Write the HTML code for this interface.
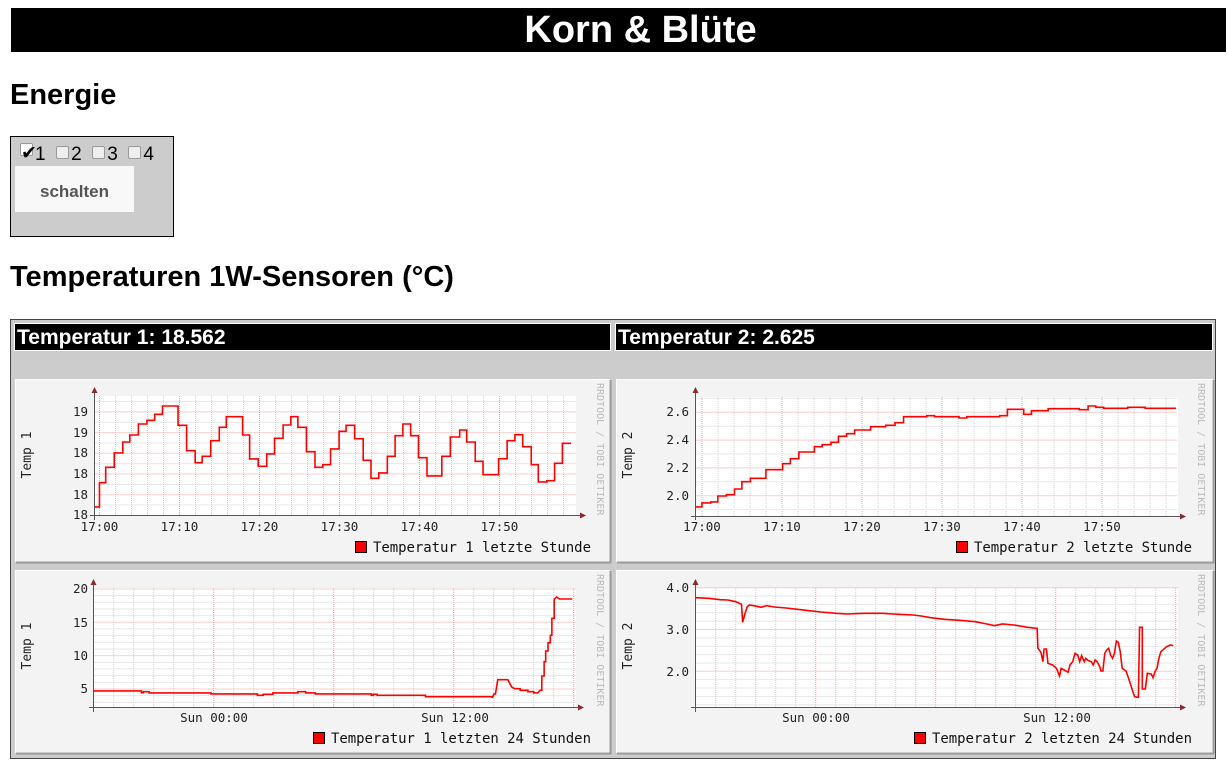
<!DOCTYPE html>
<html><head><meta charset="utf-8"><style>
body{margin:0;width:1228px;height:772px;background:#fff;position:relative;overflow:hidden;font-family:"Liberation Sans",sans-serif}
.a{position:absolute}
.title{left:11px;top:8px;width:1171px;padding-left:44px;height:44px;background:#000;color:#fff;font-weight:bold;font-size:38px;text-align:center;line-height:45px}
h2{margin:0;position:absolute;font-weight:bold}
.box{left:10px;top:136px;width:162px;height:99px;background:#ccc;border:1px solid #000}
.btn{left:4px;top:29px;width:119px;height:46px;background:#f8f8f8;color:#555;font-weight:bold;font-size:17px;text-align:center;line-height:52px}
.cb{display:inline-block;width:11px;height:11px;background:#eee;border:1px solid #999;border-radius:2px;vertical-align:1px;margin-right:2px}
.cont{left:10px;top:319px;width:1204px;height:438px;background:#ccc;border:1px solid #444}
.hd{background:#000;color:#fff;font-weight:bold;font-size:21px;line-height:28px;border:1px solid #fff;height:26px;padding-left:2px}
</style></head><body>
<div class="a title">Korn &amp; Blüte</div>
<h2 style="left:10px;top:79px;font-size:29px">Energie</h2>
<div class="a box">
 <div class="a" style="left:9px;top:6px;font-size:19px;line-height:20px;white-space:nowrap"><span class="cb" style="background:#fff">&#10004;</span>1&nbsp; <span class="cb"></span>2&nbsp; <span class="cb"></span>3&nbsp; <span class="cb"></span>4</div>
 <div class="a btn">schalten</div>
</div>
<h2 style="left:10px;top:261px;font-size:29px">Temperaturen 1W-Sensoren (°C)</h2>
<div class="a cont"></div>
<div class="a hd" style="left:14px;top:323px;width:593px">Temperatur 1: 18.562</div>
<div class="a hd" style="left:615px;top:323px;width:594px">Temperatur 2: 2.625</div>
<svg class="a" style="left:0;top:0" width="1228" height="772" font-family="'DejaVu Sans Mono','Liberation Mono',monospace">
<g stroke-width="1">
<rect x="15.5" y="379.5" width="594" height="182" fill="#f3f3f3" stroke="#fff"/>
<rect x="616.5" y="379.5" width="596" height="182" fill="#f3f3f3" stroke="#fff"/>
<rect x="15.5" y="570.5" width="594" height="182" fill="#f3f3f3" stroke="#fff"/>
<rect x="616.5" y="570.5" width="596" height="182" fill="#f3f3f3" stroke="#fff"/>
<path d="M16,562.5H610.5V380M617,562.5H1213.5V380M16,753.5H610.5V571M617,753.5H1213.5V571" stroke="#999" fill="none" stroke-width="2"/>
<rect x="94" y="396" width="482" height="120" fill="#fff"/>
<rect x="695" y="397" width="483" height="120" fill="#fff"/>
<rect x="93" y="588" width="483" height="120" fill="#fff"/>
<rect x="695" y="588" width="483" height="120" fill="#fff"/>
</g>
<g id="grids"></g>
<g stroke="#555" fill="none">
<path d="M94.5,520V392M90,515.5H580"/>
<path d="M695.5,520V392M691,516.5H1180"/>
<path d="M93.5,712V584M89,707.5H578"/>
<path d="M695.5,712V584M691,707.5H1180"/>
</g>
<g fill="#8b2a2a">
<path d="M91.5,393L94.5,387L97.5,393Z M580,512.5L586,515.5L580,518.5Z"/>
<path d="M692.5,393L695.5,387L698.5,393Z M1180,513.5L1186,516.5L1180,519.5Z"/>
<path d="M90.5,585L93.5,579L96.5,585Z M578,704.5L584,707.5L578,710.5Z"/>
<path d="M692.5,585L695.5,579L698.5,585Z M1180,704.5L1186,707.5L1180,710.5Z"/>
</g>
<g fill="none" stroke="#f00" stroke-width="1.6">
<path vector-effect="non-scaling-stroke" transform="translate(10,318) scale(0.389,0.3333)" d="M218,567 H230 V494 H246 V448 H268 V405 H290 V372 H308 V351 H330 V318 H352 V307 H372 V289 H392 V264 H432 V322 H454 V398 H476 V434 H494 V415 H516 V368 H538 V328 H556 V296 H598 V351 H616 V423 H638 V445 H660 V408 H680 V361 H702 V321 H722 V296 H740 V328 H762 V401 H784 V448 H804 V440 H824 V393 H846 V340 H864 V322 H886 V362 H908 V427 H928 V481 H948 V465 H970 V415 H990 V353 H1010 V318 H1030 V353 H1050 V419 H1072 V474 H1110 V415 H1132 V357 H1156 V336 H1174 V372 H1196 V430 H1216 V470 H1256 V422 H1278 V368 H1298 V350 H1318 V386 H1340 V440 H1358 V492 H1380 V488 H1400 V436 H1420 V376 H1442"/>
<path vector-effect="non-scaling-stroke" transform="translate(612,375) scale(0.3877,0.3333)" d="M215,396 H232 V384 H255 V381 H273 V363 H295 V359 H316 V342 H335 V320 H357 V310 H397 V284 H440 V266 H460 V251 H482 V231 H522 V215 H542 V209 H565 V202 H584 V184 H605 V176 H626 V165 H667 V155 H706 V151 H730 V143 H752 V125 H812 V122 H832 V125 H895 V129 H915 V125 H1000 V122 H1020 V103 H1062 V118 H1082 V107 H1125 V101 H1205 V104 H1228 V93 H1248 V97 H1268 V100 H1330 V97 H1375 V100 H1455"/>
<path vector-effect="non-scaling-stroke" transform="translate(10,565) scale(0.3865,0.3333)" d="M215,378 H340 V383 H345 V380 H360 V384 H520 V387 H640 V391 H655 V388 H680 V384 H745 V380 H765 V384 H790 V387 H935 V391 H940 V388 H950 V391 H1075 V395 H1248 V399 L1252,387 H1256 L1262,344 H1288 L1298,366 L1306,371 H1320 V376 H1340 V380 H1355 V384 H1365 L1372,376 H1376 V333 H1382 V290 H1386 V258 H1392 V233 H1398 V211 H1402 V160 H1408 V103 L1414,96 L1422,102 H1455"/>
<path vector-effect="non-scaling-stroke" transform="translate(612,565) scale(0.3865,0.3333)" d="M215,98 L250,100 L280,104 L300,105 L320,110 L335,118 L338,172 L343,150 L350,125 L356,120 L375,124 L385,127 L400,122 L420,126 L450,129 L480,133 L510,137 L540,141 L580,145 L610,147 L650,145 L700,145 L740,148 L780,150 L800,153 L825,158 L860,163 L900,166 L940,170 L970,177 L990,182 L1010,177 L1040,180 L1060,184 L1075,187 L1100,190 L1102,250 L1110,262 L1115,290 L1118,252 L1124,252 L1128,295 L1140,300 L1150,310 L1158,333 L1162,310 L1170,315 L1180,322 L1185,300 L1192,290 L1198,265 L1205,270 L1210,290 L1215,272 L1222,290 L1226,280 L1232,287 L1240,290 L1245,300 L1250,285 L1255,290 L1262,305 L1265,318 L1270,318 L1275,265 L1280,255 L1285,250 L1290,270 L1295,280 L1300,265 L1305,228 L1310,232 L1315,260 L1320,310 L1330,318 L1338,345 L1345,370 L1352,395 L1362,397 L1365,187 L1372,187 L1372,372 L1380,372 L1385,325 L1395,327 L1400,338 L1405,320 L1410,310 L1415,280 L1420,260 L1435,245 L1445,240 L1452,242"/>
</g>
<g font-size="12.5" fill="#222" text-anchor="end">
<text x="88" y="416">19</text><text x="88" y="437">19</text><text x="88" y="457">18</text><text x="88" y="478">18</text><text x="88" y="499">18</text><text x="88" y="519">18</text>
<text x="689" y="416">2.6</text><text x="689" y="444">2.4</text><text x="689" y="472">2.2</text><text x="689" y="500">2.0</text>
<text x="88" y="593">20</text><text x="88" y="627">15</text><text x="88" y="660">10</text><text x="88" y="693">5</text>
<text x="689" y="592">4.0</text><text x="689" y="634">3.0</text><text x="689" y="676">2.0</text>
</g>
<g font-size="12.5" fill="#222" text-anchor="middle">
<text x="99.5" y="531">17:00</text><text x="179.5" y="531">17:10</text><text x="259.5" y="531">17:20</text><text x="339.5" y="531">17:30</text><text x="419.5" y="531">17:40</text><text x="499.5" y="531">17:50</text>
<text x="702" y="531">17:00</text><text x="782" y="531">17:10</text><text x="862" y="531">17:20</text><text x="942" y="531">17:30</text><text x="1022" y="531">17:40</text><text x="1102" y="531">17:50</text>
<text x="214" y="722">Sun 00:00</text><text x="455" y="722">Sun 12:00</text>
<text x="816" y="722">Sun 00:00</text><text x="1057" y="722">Sun 12:00</text>
</g>
<g font-size="13" fill="#222" text-anchor="middle">
<text transform="translate(31,455) rotate(-90)">Temp 1</text>
<text transform="translate(632,455) rotate(-90)">Temp 2</text>
<text transform="translate(31,646) rotate(-90)">Temp 1</text>
<text transform="translate(632,646) rotate(-90)">Temp 2</text>
</g>
<g font-size="10" fill="#bbb">
<text transform="translate(597,383) rotate(90)">RRDTOOL / TOBI OETIKER</text>
<text transform="translate(1198,383) rotate(90)">RRDTOOL / TOBI OETIKER</text>
<text transform="translate(597,574) rotate(90)">RRDTOOL / TOBI OETIKER</text>
<text transform="translate(1198,574) rotate(90)">RRDTOOL / TOBI OETIKER</text>
</g>
<g fill="#f00" stroke="#000">
<rect x="355.5" y="541.5" width="11" height="11"/><rect x="956.5" y="541.5" width="11" height="11"/>
<rect x="313.5" y="732.5" width="11" height="11"/><rect x="914.5" y="732.5" width="11" height="11"/>
</g>
<g font-size="14" fill="#111">
<text x="373" y="552" textLength="218">Temperatur 1 letzte Stunde</text>
<text x="974" y="552" textLength="218">Temperatur 2 letzte Stunde</text>
<text x="331" y="743" textLength="260">Temperatur 1 letzten 24 Stunden</text>
<text x="932" y="743" textLength="260">Temperatur 2 letzten 24 Stunden</text>
</g>
</svg>
<script>
(function(){
var g=document.getElementById('grids'),s='';
function grid(ax,ay,r,t,vb,vs,ve,hb,hs,he){
 for(var k=-40;k<40;k++){var x=vb+k*vs;if(x>ax+1&&x<=r){var m=(k%ve==0);
  s+='<line x1="'+x+'" x2="'+x+'" y1="'+t+'" y2="'+ay+'" stroke="'+(m?'#f2a0a0':'#d0d0d0')+'" stroke-dasharray="1 1"/>';}}
 for(var k=-40;k<40;k++){var y=hb+k*hs;if(y<ay-1&&y>=t-0.5){var m=(k%he==0);
  s+='<line x1="'+ax+'" x2="'+r+'" y1="'+y+'" y2="'+y+'" stroke="'+(m?'#f2a0a0':'#d0d0d0')+'" stroke-dasharray="1 1"/>';}}
}
grid(94.5,515.5,576,396,99.5,16,5,494.7,10.35,2);
grid(695.5,516.5,1177,397,702,16,5,495.7,13.9,2);
grid(93.5,707.5,576,588,213.7,20,6,689,6.67,5);
grid(695.5,707.5,1178,588,815.7,20,6,671.3,8.36,5);
g.innerHTML=s;
})();
</script>
</body></html>
